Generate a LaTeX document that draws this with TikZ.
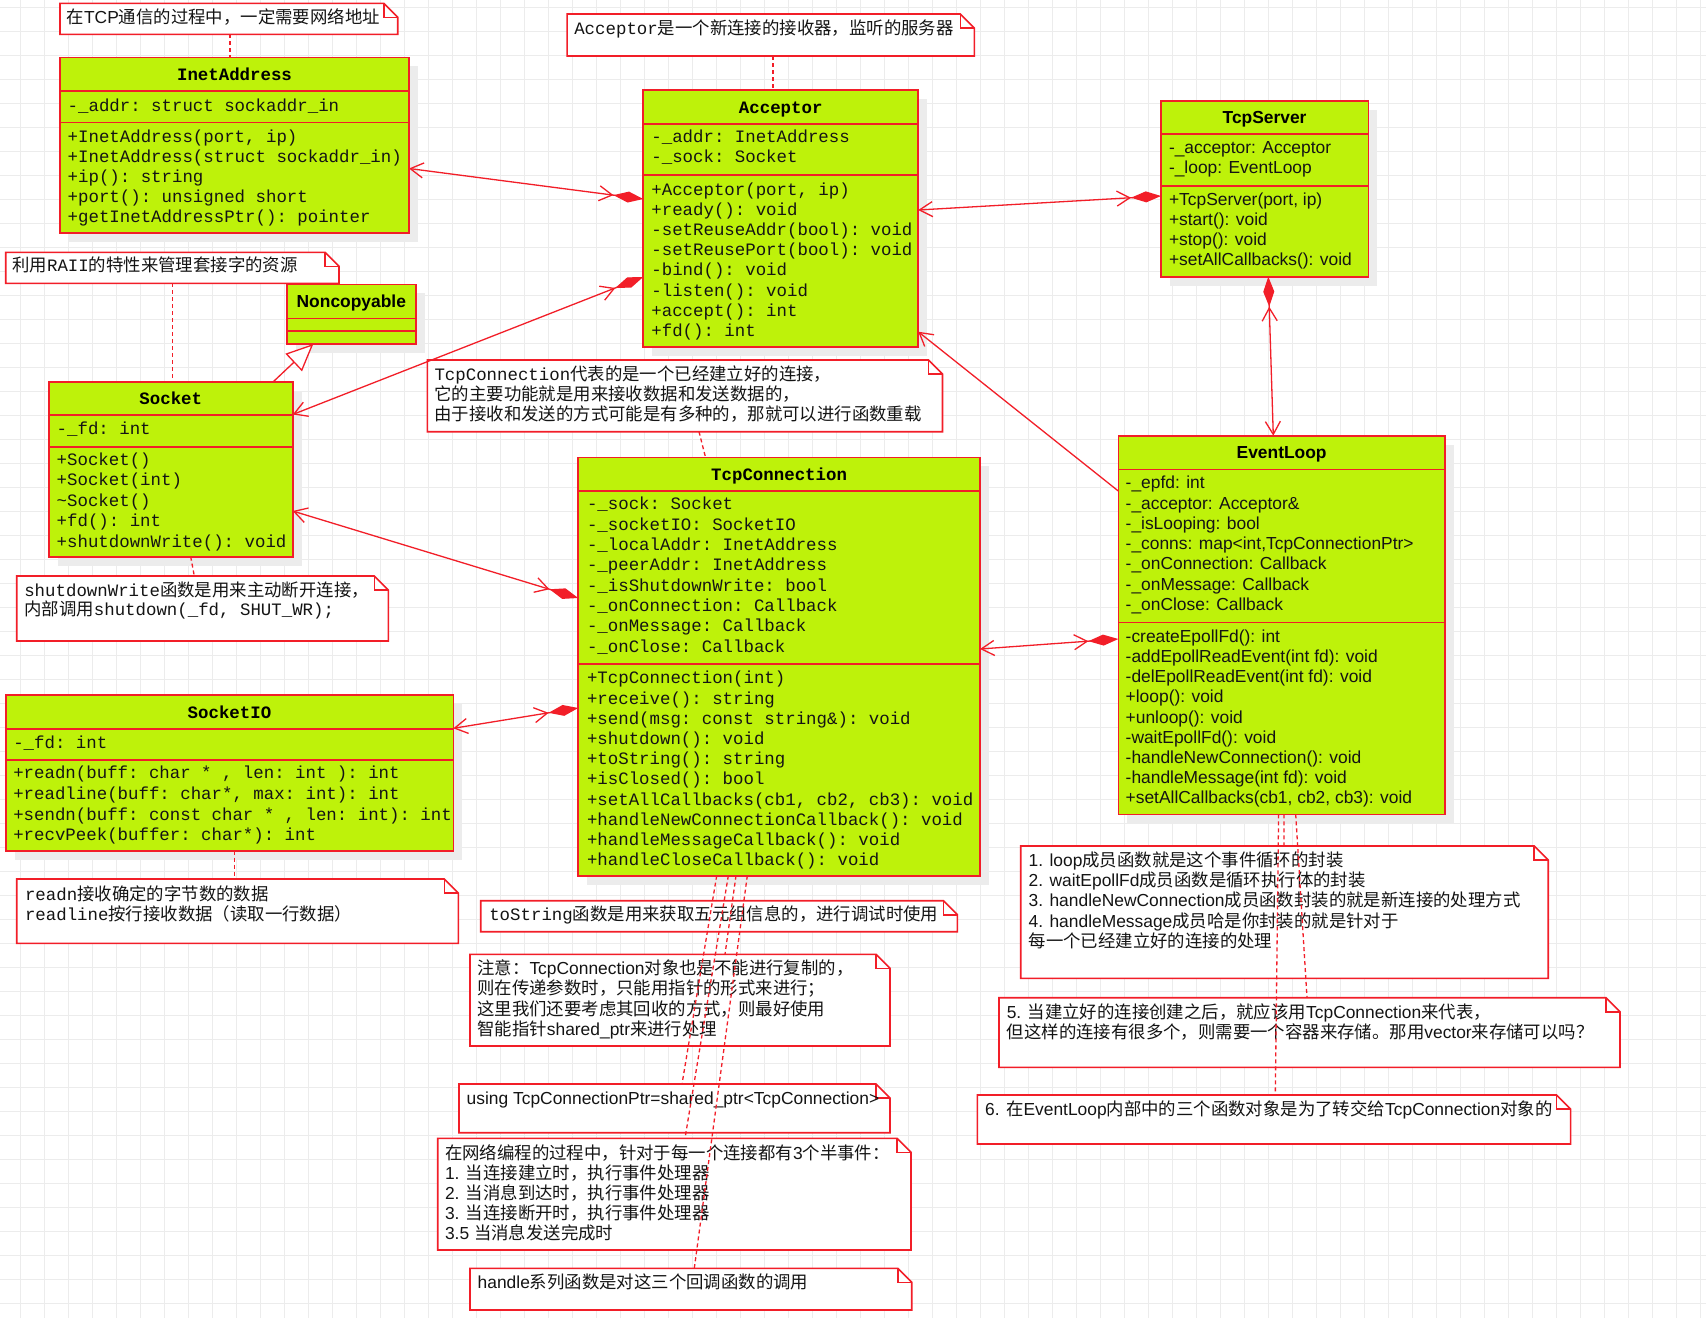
\documentclass[tikz,border=0pt]{standalone}
\usepackage{fontspec}
\setmainfont{Liberation Sans}
\setsansfont{Liberation Sans}
\setmonofont{Liberation Mono}
\newfontfamily\cjk{Noto Sans CJK SC}
\newcommand\zh[1]{{\cjk #1}}
\usetikzlibrary{arrows.meta,calc,shadows}
\definecolor{lred}{RGB}{242,30,40}
\definecolor{cfill}{RGB}{190,242,10}
\definecolor{shadowc}{RGB}{236,236,236}
\definecolor{gridc}{RGB}{236,236,236}
\definecolor{txt}{RGB}{20,20,20}
\tikzset{
  gridline/.style={draw=gridc, line width=1pt},
  classbox/.style={draw=lred, fill=cfill, line width=1.6pt, inner sep=0pt, outer sep=0pt, anchor=north west,
    drop shadow={shadow xshift=9pt, shadow yshift=-9pt, fill=shadowc, opacity=1}},
  classline/.style={draw=lred, line width=1.6pt},
  notebox/.style={draw=none, fill=none, inner sep=0pt, outer sep=0pt, anchor=north west},
  noteline/.style={draw=lred, line width=1.6pt, fill=white},
  monotxt/.style={font=\ttfamily\fontsize{17.4}{20}\selectfont, text=txt, inner sep=0pt, outer sep=0pt, text height=11pt, text depth=0pt, anchor=west},
  sanstxt/.style={monotxt, font=\sffamily\fontsize{17.4}{20}\selectfont},
  monotitle/.style={font=\ttfamily\bfseries\fontsize{17.4}{20}\selectfont, text=black, inner sep=0pt, outer sep=0pt, text height=12pt, text depth=0pt, anchor=center},
  sanstitle/.style={monotitle, font=\sffamily\bfseries\fontsize{17.4}{20}\selectfont},
  assoc/.style={draw=lred, line width=1.3pt},
  notelink/.style={draw=lred, line width=1.3pt, dash pattern=on 4pt off 3pt},
}
\newcommand\umlclass[7]{%
  \node[classbox, minimum width={(#4-#2)*1pt}, minimum height={(#5-#3)*1pt}] (#1) at (#2,#3) {};
  \draw[classline] (#2,#6) -- (#4,#6);
  \draw[classline] (#2,#7) -- (#4,#7);
}
\newcommand\umlnote[5]{%
  \node[notebox, minimum width={(#4-#2)*1pt}, minimum height={(#5-#3)*1pt}] (#1) at (#2,#3) {};
  \filldraw[noteline] (#1.north west) -- ($(#1.north east)+(-14,0)$) -- ($(#1.north east)+(0,14)$) -- (#1.south east) -- (#1.south west) -- cycle;
  \draw[noteline, fill=none] ($(#1.north east)+(-14,0)$) -- ($(#1.north east)+(-14,14)$) -- ($(#1.north east)+(0,14)$);
}
\newcommand\tlines[6]{%
  \foreach \ltxt [count=\lidx] in {#6} {\node[#2] (#1\lidx) at (#3,{#4+#5*(\lidx-1)}) {\ltxt};}
}
\begin{document}
\begin{tikzpicture}[x=1pt,y=-1pt]
\useasboundingbox (0,0) rectangle (1706,1318);
\fill[white] (0,0) rectangle (1706,1318);
\foreach \gx in {20,44,...,1706} \draw[gridline] (\gx,0) -- (\gx,1318);
\foreach \gy in {7,31,...,1318} \draw[gridline] (0,\gy) -- (1706,\gy);

% ---------- classes ----------
\umlclass{inet}{60}{57.3}{409}{232.7}{91}{122.3}
\umlclass{acc}{643.2}{90}{918.2}{346.7}{124}{175}
\umlclass{server}{1161}{100.7}{1368.3}{276.7}{134}{186}
\umlclass{noncop}{286.7}{284.3}{416}{344}{318.3}{331}
\umlclass{sock}{49}{381.7}{292.7}{556.7}{415}{446.7}
\umlclass{sockio}{5.7}{695}{453.3}{850.7}{729}{760}
\umlclass{conn}{578.2}{457.3}{980}{875.7}{491}{664}
\umlclass{loop}{1118.3}{435.7}{1445}{814.3}{469.3}{622.3}

% ---------- notes ----------
\umlnote{n1}{60}{3.3}{397.7}{34.3}
\umlnote{n2}{567.1}{14}{974.3}{56}
\umlnote{n3}{5.7}{252.3}{339}{283.3}
\umlnote{n4}{16.7}{576}{388.3}{641}
\umlnote{n5}{16.7}{879}{458.3}{943.3}
\umlnote{n6}{427.3}{360}{942.5}{431.7}
\umlnote{n7}{480.7}{900.7}{957.4}{931.7}
\umlnote{n8}{470}{954.3}{890}{1046}
\umlnote{n9}{459}{1084}{890}{1132.7}
\umlnote{n10}{437.7}{1138.3}{911}{1250}
\umlnote{n11}{470}{1268.3}{911.7}{1310}
\umlnote{n12}{1020.7}{846}{1548.2}{978.3}
\umlnote{n13}{999}{997.7}{1620}{1067.3}
\umlnote{n14}{977.3}{1095}{1570.6}{1144}

% ---------- class texts ----------
\node[monotitle] (inett) at (234.5,74) {InetAddress};
\tlines{ineta}{monotxt}{67.7}{106}{20.15}{{-\_addr: struct sockaddr\_in}}
\tlines{inetm}{monotxt}{67.7}{136.7}{20.15}{{+InetAddress(port, ip)},{+InetAddress(struct sockaddr\_in)},{+ip(): string},{+port(): unsigned short},{+getInetAddressPtr(): pointer}}

\node[monotitle] (acct) at (780.7,107) {Acceptor};
\tlines{acca}{monotxt}{651.4}{137.3}{19.6}{{-\_addr: InetAddress},{-\_sock: Socket}}
\tlines{accm}{monotxt}{651.4}{190}{20.1}{{+Acceptor(port, ip)},{+ready(): void},{-setReuseAddr(bool): void},{-setReusePort(bool): void},{-bind(): void},{-listen(): void},{+accept(): int},{+fd(): int}}

\node[sanstitle] (servert) at (1264.6,117.3) {TcpServer};
\tlines{servera}{sanstxt}{1169}{148.3}{20}{{-\_acceptor: Acceptor},{-\_loop: EventLoop}}
\tlines{serverm}{sanstxt}{1169}{200}{20}{{+TcpServer(port, ip)},{+start(): void},{+stop(): void},{+setAllCallbacks(): void}}

\node[sanstitle] (noncopt) at (351.3,301.5) {Noncopyable};

\node[monotitle] (sockt) at (170.8,398.3) {Socket};
\tlines{socka}{monotxt}{56.7}{429.3}{20}{{-\_fd: int}}
\tlines{sockm}{monotxt}{56.7}{460}{20.4}{{+Socket()},{+Socket(int)},{\textasciitilde Socket()},{+fd(): int},{+shutdownWrite(): void}}

\node[monotitle] (sockiot) at (229.5,712) {SocketIO};
\tlines{sockioa}{monotxt}{13.3}{742.7}{20}{{-\_fd: int}}
\tlines{sockiom}{monotxt}{13.3}{773.3}{20.6}{{+readn(buff: char * , len: int ): int},{+readline(buff: char*, max: int): int},{+sendn(buff: const char * , len: int): int},{+recvPeek(buffer: char*): int}}

\node[monotitle] (connt) at (779.1,474) {TcpConnection};
\tlines{conna}{monotxt}{587}{504.3}{20.33}{{-\_sock: Socket},{-\_socketIO: SocketIO},{-\_localAddr: InetAddress},{-\_peerAddr: InetAddress},{-\_isShutdownWrite: bool},{-\_onConnection: Callback},{-\_onMessage: Callback},{-\_onClose: Callback}}
\tlines{connm}{monotxt}{587}{678.3}{20.2}{{+TcpConnection(int)},{+receive(): string},{+send(msg: const string\&): void},{+shutdown(): void},{+toString(): string},{+isClosed(): bool},{+setAllCallbacks(cb1, cb2, cb3): void},{+handleNewConnectionCallback(): void},{+handleMessageCallback(): void},{+handleCloseCallback(): void}}

\node[sanstitle] (loopt) at (1281.6,452.5) {EventLoop};
\tlines{loopa}{sanstxt}{1125.7}{483.3}{20.28}{{-\_epfd: int},{-\_acceptor: Acceptor\&},{-\_isLooping: bool},{-\_conns: map<int,TcpConnectionPtr>},{-\_onConnection: Callback},{-\_onMessage: Callback},{-\_onClose: Callback}}
\tlines{loopm}{sanstxt}{1125.7}{636.7}{20.2}{{-createEpollFd(): int},{-addEpollReadEvent(int fd): void},{-delEpollReadEvent(int fd): void},{+loop(): void},{+unloop(): void},{-waitEpollFd(): void},{-handleNewConnection(): void},{-handleMessage(int fd): void},{+setAllCallbacks(cb1, cb2, cb3): void}}

% ---------- note texts ----------
\tlines{n1t}{sanstxt}{66.7}{18.3}{20}{{\zh{在}TCP\zh{通信的过程中，一定需要网络地址}}}
\tlines{n2t}{monotxt}{574.3}{29.3}{20}{{Acceptor\zh{是一个新连接的接收器，监听的服务器}}}
\tlines{n3t}{monotxt}{12.3}{266}{20}{{\zh{利用}RAII\zh{的特性来管理套接字的资源}}}
\tlines{n4t}{monotxt}{24.3}{590.7}{19.4}{{shutdownWrite\zh{函数是用来主动断开连接，}},{\zh{内部调用}shutdown(\_fd, SHUT\_WR);}}
\tlines{n5t}{monotxt}{25}{895}{20}{{readn\zh{接收确定的字节数的数据}},{readline\zh{按行接收数据（读取一行数据）}}}
\tlines{n6t}{monotxt}{434.5}{375}{20}{{TcpConnection\zh{代表的是一个已经建立好的连接，}},{\zh{它的主要功能就是用来接收数据和发送数据的，}},{\zh{由于接收和发送的方式可能是有多种的，那就可以进行函数重载}}}
\tlines{n7t}{monotxt}{489.3}{915}{20}{{toString\zh{函数是用来获取五元组信息的，进行调试时使用}}}
\tlines{n8t}{sanstxt}{477.3}{969}{20.3}{{\zh{注意：}TcpConnection\zh{对象也是不能进行复制的，}},{\zh{则在传递参数时，只能用指针的形式来进行；}},{\zh{这里我们还要考虑其回收的方式，则最好使用}},{\zh{智能指针}shared\_ptr\zh{来进行处理}}}
\tlines{n9t}{sanstxt}{466.7}{1099.3}{20}{{using TcpConnectionPtr=shared\_ptr<TcpConnection>}}
\tlines{n10t}{sanstxt}{445}{1154}{20.1}{{\zh{在网络编程的过程中，针对于每一个连接都有}3\zh{个半事件：}},{1. \zh{当连接建立时，执行事件处理器}},{2. \zh{当消息到达时，执行事件处理器}},{3. \zh{当连接断开时，执行事件处理器}},{3.5 \zh{当消息发送完成时}}}
\tlines{n11t}{sanstxt}{477.7}{1282.7}{20}{{handle\zh{系列函数是对这三个回调函数的调用}}}
\tlines{n12t}{sanstxt}{1028.6}{861}{20.2}{{1. loop\zh{成员函数就是这个事件循环的封装}},{2. waitEpollFd\zh{成员函数是循环执行体的封装}},{3. handleNewConnection\zh{成员函数封装的就是新连接的处理方式}},{4. handleMessage\zh{成员哈是你封装的就是针对于}},{\zh{每一个已经建立好的连接的处理}}}
\tlines{n13t}{sanstxt}{1006.8}{1013.3}{20}{{5. \zh{当建立好的连接创建之后，就应该用}TcpConnection\zh{来代表，}},{\zh{但这样的连接有很多个，则需要一个容器来存储。那用}vector\zh{来存储可以吗？}}}
\tlines{n14t}{sanstxt}{985.2}{1110}{20}{{6. \zh{在}EventLoop\zh{内部中的三个函数对象是为了转交给}TcpConnection\zh{对象的}}}

% ---------- note links ----------
\draw[notelink] ($(n1.south west)+(170,0)$) -- ($(inet.north west)+(170,0)$);
\draw[notelink] ($(n2.south west)+(205.9,0)$) -- ($(acc.north west)+(129.8,0)$);
\draw[notelink] ($(n3.south west)+(166.6,0)$) -- ($(sock.north west)+(123.3,0)$);
\draw[notelink] ($(sock.south west)+(141.7,0)$) -- ($(n4.north west)+(177.6,0)$);
\draw[notelink] ($(sockio.south west)+(228.6,0)$) -- ($(n5.north west)+(217.6,0)$);
\draw[notelink] ($(n6.south west)+(271.7,0)$) -- ($(conn.north west)+(127.3,0)$);
\draw[notelink] ($(conn.south west)+(169.1,0)$) -- ($(n11.north west)+(224.3,0)$);
\draw[notelink] ($(conn.south west)+(150.1,0)$) -- ($(n10.north west)+(247.3,0)$);
\draw[notelink] ($(conn.south west)+(138.5,0)$) -- ($(n9.north west)+(223,0)$);
\draw[notelink] ($(conn.south west)+(157.8,0)$) -- ($(n8.north west)+(255,0)$);
\draw[notelink] ($(loop.south west)+(165.6,0)$) -- ($(n12.north west)+(263.2,0)$);
\draw[notelink] ($(loop.south west)+(177.4,0)$) -- ($(n13.north west)+(308,0)$);
\draw[notelink] ($(loop.south west)+(160.3,0)$) -- ($(n14.north west)+(298,0)$);

% ---------- associations ----------
\draw[assoc, {Straight Barb[length=13pt,width=15pt]}-{Straight Barb[length=13pt,width=15pt] Diamond[length=30pt,width=11pt]}]
  ($(inet.north east)+(0,111.2)$) -- ($(acc.north west)+(0,109)$);
\draw[assoc, {Straight Barb[length=13pt,width=15pt]}-{Straight Barb[length=13pt,width=15pt] Diamond[length=30pt,width=11pt]}]
  ($(sock.north east)+(0,32.8)$) -- ($(acc.north west)+(0,187)$);
\draw[assoc, {Straight Barb[length=13pt,width=15pt]}-{Straight Barb[length=13pt,width=15pt] Diamond[length=30pt,width=11pt]}]
  ($(acc.north east)+(0,120)$) -- ($(server.north west)+(0,95.3)$);
\draw[assoc, -{Straight Barb[length=13pt,width=15pt]}]
  ($(loop.north west)+(0,55.3)$) -- ($(acc.north east)+(0,241.7)$);
\draw[assoc, {Diamond[length=30pt,width=11pt] Straight Barb[length=13pt,width=15pt]}-{Straight Barb[length=13pt,width=15pt]}]
  ($(server.south west)+(107.3,0)$) -- ($(loop.north west)+(155,0)$);
\draw[assoc, {Straight Barb[length=13pt,width=15pt]}-{Straight Barb[length=13pt,width=15pt] Diamond[length=30pt,width=11pt]}]
  ($(sock.north east)+(0,129.3)$) -- ($(conn.north west)+(0,140.7)$);
\draw[assoc, {Straight Barb[length=13pt,width=15pt]}-{Straight Barb[length=13pt,width=15pt] Diamond[length=30pt,width=11pt]}]
  ($(sockio.north east)+(0,33.3)$) -- ($(conn.north west)+(0,250.7)$);
\draw[assoc, {Straight Barb[length=13pt,width=15pt]}-{Straight Barb[length=13pt,width=15pt] Diamond[length=30pt,width=11pt]}]
  ($(conn.north east)+(0,191.7)$) -- ($(loop.north west)+(0,203.3)$);
\draw[assoc, -{Triangle[length=27pt,width=24pt,fill=white]}]
  ($(sock.north west)+(224.3,0)$) -- ($(noncop.south west)+(26.6,0)$);
\end{tikzpicture}
\end{document}
